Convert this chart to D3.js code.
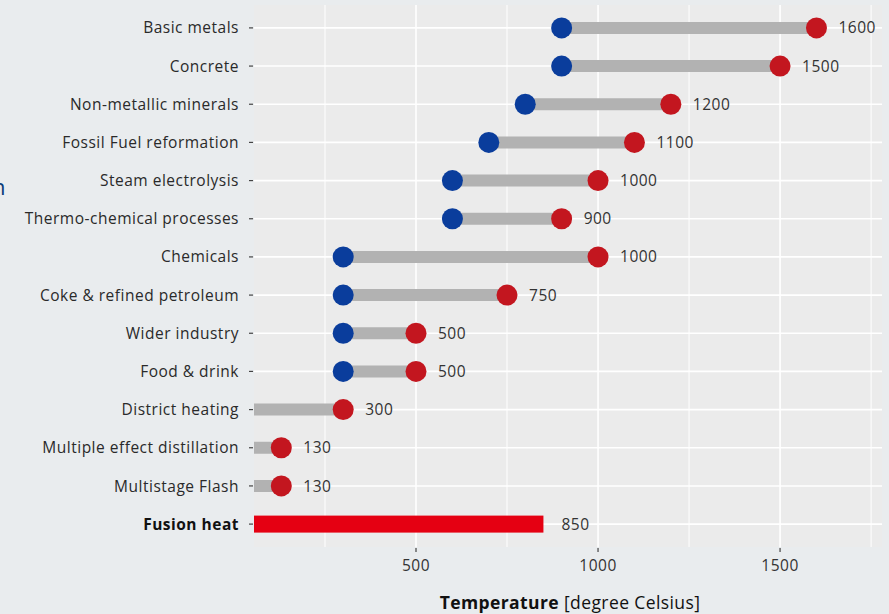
<!DOCTYPE html>
<html>
<head>
<meta charset="utf-8">
<script src="https://cdn.jsdelivr.net/npm/d3@7"></script>
<style>
  html, body { margin: 0; padding: 0; background: #e9ecee; }
  svg { display: block; }
  text { font-family: "Open Sans", "Lato", sans-serif; }
</style>
</head>
<body>
<svg id="chart" width="889" height="614"></svg>
<script>
const categories = ["Basic metals", "Concrete", "Non-metallic minerals", "Fossil Fuel reformation",
  "Steam electrolysis", "Thermo-chemical processes", "Chemicals", "Coke & refined petroleum",
  "Wider industry", "Food & drink", "District heating", "Multiple effect distillation",
  "Multistage Flash", "Fusion heat"];
const lowValues  = [900, 900, 800, 700, 600, 600, 300, 300, 300, 300, 0, 0, 0, null];
const highValues = [1600, 1500, 1200, 1100, 1000, 900, 1000, 750, 500, 500, 300, 130, 130, null];
const fusionValue = 850;
const xTicks = [500, 1000, 1500];
const xMinorTicks = [250, 750, 1250, 1750];

const W = 889, H = 614;
const m = { left: 254, right: 7, top: 5, bottom: 67 };
const pw = W - m.left - m.right, ph = H - m.top - m.bottom;

const svg = d3.select("#chart");
svg.append("rect").attr("width", W).attr("height", H).attr("fill", "#e9ecee");

const x = d3.scaleLinear().domain([55, 1780]).range([m.left, m.left + pw]);
const y = d3.scalePoint().domain(categories).range([m.top, m.top + ph]).padding(0.6);

svg.append("defs").append("clipPath").attr("id", "clip")
  .append("rect").attr("x", m.left).attr("y", m.top).attr("width", pw).attr("height", ph);

// panel
svg.append("rect").attr("x", m.left).attr("y", m.top).attr("width", pw).attr("height", ph)
  .attr("fill", "#ebebeb");

const grid = svg.append("g");
grid.selectAll(".minor").data(xMinorTicks).join("line")
  .attr("x1", d => x(d)).attr("x2", d => x(d))
  .attr("y1", m.top).attr("y2", m.top + ph)
  .attr("stroke", "#ffffff").attr("stroke-width", 1);
grid.selectAll(".major").data(xTicks).join("line")
  .attr("x1", d => x(d)).attr("x2", d => x(d))
  .attr("y1", m.top).attr("y2", m.top + ph)
  .attr("stroke", "#ffffff").attr("stroke-width", 1.6);
grid.selectAll(".hy").data(categories).join("line")
  .attr("x1", m.left).attr("x2", m.left + pw)
  .attr("y1", d => y(d)).attr("y2", d => y(d))
  .attr("stroke", "#ffffff").attr("stroke-width", 1.6);

const plot = svg.append("g").attr("clip-path", "url(#clip)");
const rows = categories.map((c, i) => ({ c, lo: lowValues[i], hi: highValues[i] })).filter(d => d.hi != null);

plot.selectAll(".seg").data(rows).join("line")
  .attr("x1", d => x(d.lo)).attr("x2", d => x(d.hi))
  .attr("y1", d => y(d.c)).attr("y2", d => y(d.c))
  .attr("stroke", "#b2b2b2").attr("stroke-width", 12);

plot.selectAll(".lo").data(rows).join("circle")
  .attr("cx", d => x(d.lo)).attr("cy", d => y(d.c)).attr("r", 10.5)
  .attr("fill", "#0a3d9c");
plot.selectAll(".hi").data(rows).join("circle")
  .attr("cx", d => x(d.hi)).attr("cy", d => y(d.c)).attr("r", 10.5)
  .attr("fill", "#c3161f");

// fusion bar
plot.append("rect")
  .attr("x", x(0)).attr("y", y("Fusion heat") - 8.5)
  .attr("width", x(fusionValue) - x(0)).attr("height", 17)
  .attr("fill", "#e50012");

const fs = 15.5, ls = "0.5px";

// value labels
svg.selectAll(".vl").data(rows).join("text")
  .attr("x", d => x(d.hi) + 22).attr("y", d => y(d.c)).attr("dy", "0.36em")
  .attr("font-size", fs).attr("letter-spacing", ls).attr("fill", "#333333").text(d => d.hi);
svg.append("text").attr("x", x(fusionValue) + 18).attr("y", y("Fusion heat")).attr("dy", "0.36em")
  .attr("font-size", fs).attr("letter-spacing", ls).attr("fill", "#333333").text(fusionValue);

// y axis labels and ticks
svg.selectAll(".yt").data(categories).join("line")
  .attr("x1", m.left - 5).attr("x2", m.left - 1)
  .attr("y1", d => y(d)).attr("y2", d => y(d))
  .attr("stroke", "#444").attr("stroke-width", 1.2);
svg.selectAll(".yl").data(categories).join("text")
  .attr("x", m.left - 15).attr("y", d => y(d)).attr("dy", "0.36em")
  .attr("text-anchor", "end").attr("font-size", fs).attr("letter-spacing", ls)
  .attr("font-weight", d => d === "Fusion heat" ? "bold" : "normal")
  .attr("fill", d => d === "Fusion heat" ? "#111" : "#2a2a2a")
  .text(d => d);

// x axis
svg.selectAll(".xt").data(xTicks).join("line")
  .attr("x1", d => x(d)).attr("x2", d => x(d))
  .attr("y1", m.top + ph + 1).attr("y2", m.top + ph + 5)
  .attr("stroke", "#444").attr("stroke-width", 1.2);
svg.selectAll(".xl").data(xTicks).join("text")
  .attr("x", d => x(d)).attr("y", m.top + ph + 24)
  .attr("text-anchor", "middle").attr("font-size", fs).attr("letter-spacing", ls).attr("fill", "#333")
  .text(d => d);

const title = svg.append("text").attr("x", m.left + pw / 2 + 2).attr("y", 609)
  .attr("text-anchor", "middle").attr("font-size", 17.5).attr("letter-spacing", "0.4px").attr("fill", "#111");
title.append("tspan").attr("font-weight", "bold").text("Temperature");
title.append("tspan").text(" [degree Celsius]");

// clipped fragment of adjacent text at the left edge
svg.append("text").attr("x", -8).attr("y", 195).attr("font-size", 22)
  .attr("fill", "#0a3d7a").text("n");
</script>
</body>
</html>
